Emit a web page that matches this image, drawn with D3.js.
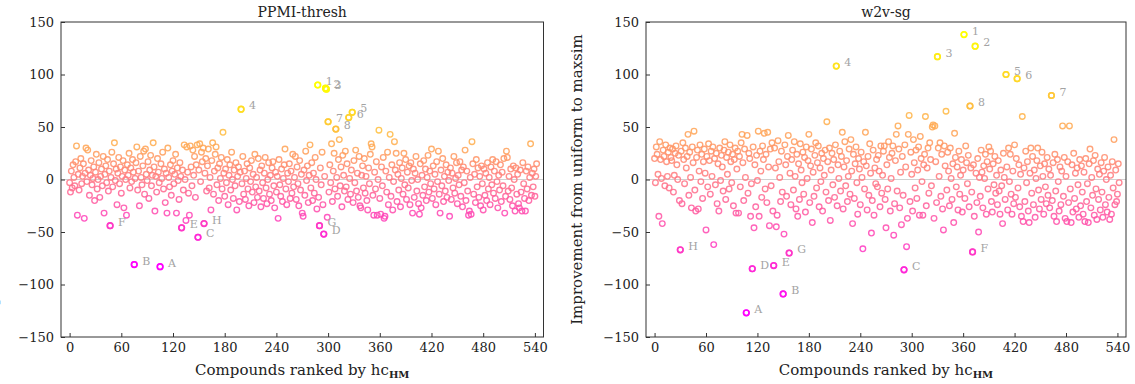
<!DOCTYPE html>
<html><head><meta charset="utf-8">
<script src="https://cdn.jsdelivr.net/npm/d3@7"></script>
<style>body{margin:0;background:#fff} svg{display:block} text{font-family:"DejaVu Serif",serif}</style>
</head><body><svg id="c" width="1135" height="384"></svg>
<script>
// Values per compound (index = rank by hc_HM)
const ppmiValues = [
-3,-12,8,-8,14,2,-6,17,32,-34,5,-10,11,20,-4,3,15,-37,6,30,
-2,28,9,-15,4,18,-5,1,12,-20,7,24,-9,0,16,-17,3,10,-6,22,
-32,5,13,-3,19,-11,8,-44,2,26,-7,15,35,-1,10,-24,6,21,-4,12,
-13,3,18,-27,9,0,-34,14,4,25,-8,11,-2,19,7,-81,1,16,31,-10,
8,-25,22,2,-5,13,27,-14,29,5,-1,17,-18,9,23,-6,4,35,12,-30,
3,-12,20,7,-3,-83,15,1,26,-9,10,-22,6,-32,30,2,-7,14,-15,8,
18,-4,5,24,-32,11,-1,-19,16,3,-46,9,-10,33,0,-39,31,7,-13,-34,
32,12,-6,28,4,22,-17,14,33,-55,9,34,-2,26,17,30,-42,6,20,-11,
13,29,-8,2,-29,18,35,-14,8,24,31,-5,11,-20,15,1,21,-9,45,6,
-16,10,-3,19,-24,4,14,-10,26,0,-18,9,-6,16,-29,3,12,-21,7,67,
-4,22,-14,8,-19,1,15,-9,-25,11,-2,18,-12,5,-22,24,-7,2,-17,20,
-11,9,-26,13,-3,-18,6,21,-8,-23,0,16,-14,4,-20,11,17,-6,-27,7,
-12,3,-37,19,-5,-16,10,-21,1,14,29,-9,-24,6,-2,15,-18,8,-13,24,
-7,2,22,-19,12,-4,-25,18,-10,5,-32,-35,9,-15,27,-1,13,-22,4,33,
-8,16,-20,6,-13,21,0,-28,90,-17,-44,11,-5,26,-24,-52,3,87,86,-36,
55,-12,14,-3,34,-21,8,25,-9,48,2,-16,19,38,-6,12,-26,23,4,-11,
27,-7,15,-19,59,1,-14,9,64,-22,18,-3,28,-11,6,-17,22,-25,-27,4,
13,-8,20,-13,3,-20,-29,11,-4,24,34,31,-15,-34,7,-9,17,-34,0,47,
-18,-33,12,-6,21,-37,-35,8,-12,26,-24,2,43,-16,14,-29,-2,36,9,25,
-21,5,-10,16,-26,1,11,-14,25,-5,19,-19,7,-8,13,-24,16,-1,-32,10,
-17,6,22,-11,0,-23,-33,15,-27,4,-15,18,-7,10,-20,2,23,-12,8,-4,
29,-18,13,-9,5,-24,17,-2,27,-14,-32,9,-6,20,-21,3,-11,14,-17,7,
-1,-35,11,-19,6,-8,22,-13,1,16,-23,4,-5,17,-16,9,-26,12,-3,28,
-20,8,-11,-34,-30,2,-33,36,15,-14,5,-22,19,-7,11,-17,3,-25,13,-4,
-29,10,-15,6,-20,16,-9,2,-24,12,-5,19,-13,8,-18,17,-2,-27,4,-10,
14,-21,7,-6,20,-32,-16,27,21,-11,3,-19,10,-8,-25,13,0,-30,11,-14,
5,-23,-27,9,-12,-30,16,-4,-18,-30,8,-9,12,-20,2,34,-15,6,-7,10,
-16,3,15];

const w2vValues = [
20,-3,31,24,5,-35,36,19,1,-42,28,22,-6,33,17,3,26,-8,30,21,
18,29,-12,4,25,32,14,0,23,-20,-67,27,-23,35,19,-4,30,11,22,43,
-15,26,2,-27,31,16,46,-10,-30,21,28,-28,8,33,-2,24,-18,17,29,6,
-48,22,-7,34,18,-14,27,3,31,-62,20,-5,25,-23,15,-30,30,-1,23,12,
-11,28,36,-19,21,5,26,-9,33,17,-3,24,-25,19,30,-32,10,27,-32,22,
-7,35,43,16,-20,29,2,-127,42,-13,25,20,-35,-4,-85,31,-46,14,-26,23,
-1,46,-35,27,8,-17,32,19,44,-9,24,-22,45,12,-44,29,-6,35,-30,-82,
30,11,-45,-34,37,17,2,-21,27,-12,-109,-52,33,14,-16,22,42,-70,6,-24,
19,28,-10,36,3,-28,24,-35,15,-19,34,9,-3,26,-14,21,-31,31,1,18,
43,-22,13,29,-41,7,-16,23,35,-8,16,32,-26,11,-2,25,-30,20,4,28,
-12,55,17,-20,30,-39,9,25,-5,19,-17,33,108,-25,14,1,27,-11,22,45,
-28,12,36,-6,18,-21,3,29,-14,38,8,-42,24,-18,15,31,-3,-33,20,10,
-24,26,2,-66,17,-9,45,13,-29,22,-15,34,6,-51,-20,28,-34,11,-4,19,
-7,23,8,-26,32,-13,4,27,32,-19,-46,14,-9,36,21,-30,1,25,32,-53,
-23,18,43,-11,51,29,-27,7,-43,22,-15,-86,33,12,-64,-37,43,61,-21,26,
5,-30,38,16,-8,28,-18,9,31,-34,41,20,-2,-34,14,24,60,-25,11,30,
-13,35,19,-6,50,52,-37,51,17,-22,117,30,3,35,-16,24,-28,-48,32,13,
65,-10,26,8,-25,30,1,-19,15,-41,44,21,-7,12,-29,27,-14,4,19,-31,
9,138,-18,32,16,-4,23,-26,70,11,-12,-69,14,-35,127,6,-22,20,-50,2,
-16,28,7,-27,13,1,24,-33,17,-9,31,10,27,-21,-31,15,-5,22,-13,4,
-24,18,-11,-33,9,-6,-42,25,2,-19,100,12,-29,30,-2,24,-14,-33,8,-23,
33,-17,20,96,-8,14,-26,5,-35,60,-40,11,-21,27,-3,17,-30,-41,6,30,
-13,22,-24,9,-36,1,18,30,-10,-28,13,-19,26,3,-33,15,-7,-23,21,-15,
10,-27,4,80,-20,16,-35,24,-11,-40,19,-2,-30,12,-24,8,51,-16,21,-37,
3,-40,17,-22,51,-9,-41,14,-31,25,-18,6,-28,11,-5,-36,19,-25,13,-12,
-33,7,-40,20,-21,-4,-41,15,29,-27,2,-15,18,-34,23,-9,-38,10,-19,5,
-29,16,-12,-36,8,21,-24,0,-31,12,-17,-38,4,-33,17,-8,38,-24,9,-21,
-14,15,-3];

const labelNames = ["1","2","3","4","5","6","7","8","A","B","C","D","E","F","G","H"];
const ppmiLabelRanks = [288,297,298,199,328,324,300,309,105,75,149,295,130,47,290,156];
const w2vLabelRanks  = [361,374,330,212,410,423,463,368,107,150,291,114,139,371,157,30];

const titles = ["PPMI-thresh","w2v-sg"];
const xTicks = [0,60,120,180,240,300,360,420,480,540];
const yTicks = [-150,-100,-50,0,50,100,150];
const yLabel = "Improvement from uniform to maxsim";

const svg = d3.select("#c");
const panels = [
  {title:titles[0], values:ppmiValues, ranks:ppmiLabelRanks, left:61, right:543.5},
  {title:titles[1], values:w2vValues, ranks:w2vLabelRanks, left:646, right:1126}
];
const plotTop = 22, plotBottom = 337;

panels.forEach(p => {
  const x = d3.scaleLinear().domain([-10,550]).range([p.left,p.right]);
  const y = d3.scaleLinear().domain([-150,150]).range([plotBottom,plotTop]);
  const color = d3.scaleSequential(d3.interpolateRgb("#ff00ff","#ffff00")).domain(d3.extent(p.values));
  const g = svg.append("g");

  g.append("line").attr("x1",p.left).attr("x2",p.right)
    .attr("y1",y(0)).attr("y2",y(0)).attr("stroke","#d0d0d0").attr("stroke-width",1.2);

  g.append("g").selectAll("circle").data(p.values).join("circle")
    .attr("cx",(d,i)=>x(i)).attr("cy",d=>y(d)).attr("r",2.8)
    .attr("fill","none").attr("stroke",d=>color(d)).attr("stroke-width",1.35)
    .attr("stroke-opacity",0.88);

  const lab = p.ranks.map((r,k)=>({r, v:p.values[r], name:labelNames[k]}));
  g.append("g").selectAll("circle").data(lab).join("circle")
    .attr("cx",d=>x(d.r)).attr("cy",d=>y(d.v)).attr("r",2.8)
    .attr("fill","none").attr("stroke",d=>color(d.v)).attr("stroke-width",1.6);
  g.append("g").selectAll("text").data(lab).join("text")
    .attr("x",d=>x(d.r)+8).attr("y",d=>y(d.v))
    .attr("font-size",11).attr("fill","#a3a3a3").text(d=>d.name);

  const xa = g.append("g").attr("transform",`translate(0,${plotBottom})`)
    .call(d3.axisBottom(x).tickValues(xTicks).tickSize(-4).tickPadding(6).tickFormat(d3.format("d")));
  const ya = g.append("g").attr("transform",`translate(${p.left},0)`)
    .call(d3.axisLeft(y).tickValues(yTicks).tickSize(-4).tickPadding(7).tickFormat(d3.format("d")));
  [xa,ya].forEach(a=>{
    a.select(".domain").remove();
    a.selectAll("text").attr("font-size",13).attr("fill","#222").attr("font-family","DejaVu Serif");
    a.selectAll("line").attr("stroke","#333");
  });

  g.append("rect").attr("x",p.left).attr("y",plotTop).attr("width",p.right-p.left).attr("height",plotBottom-plotTop)
    .attr("fill","none").attr("stroke","#333").attr("stroke-width",1);

  g.append("text").attr("x",(p.left+p.right)/2).attr("y",17).attr("text-anchor","middle")
    .attr("font-size",14).attr("fill","#222").text(p.title);

  const xl = g.append("text").attr("x",(p.left+p.right)/2).attr("y",375).attr("text-anchor","middle")
    .attr("font-size",15).attr("fill","#222");
  xl.append("tspan").text("Compounds ranked by ");
  xl.append("tspan").text("hc");
  xl.append("tspan").attr("font-size",10).attr("font-weight","bold").attr("dy",3).text("HM");

  g.append("text").attr("transform",`translate(${p.left-64},${(plotTop+plotBottom)/2}) rotate(-90)`)
    .attr("text-anchor","middle").attr("font-size",15).attr("fill","#222").text(yLabel);
});
</script></body></html>
